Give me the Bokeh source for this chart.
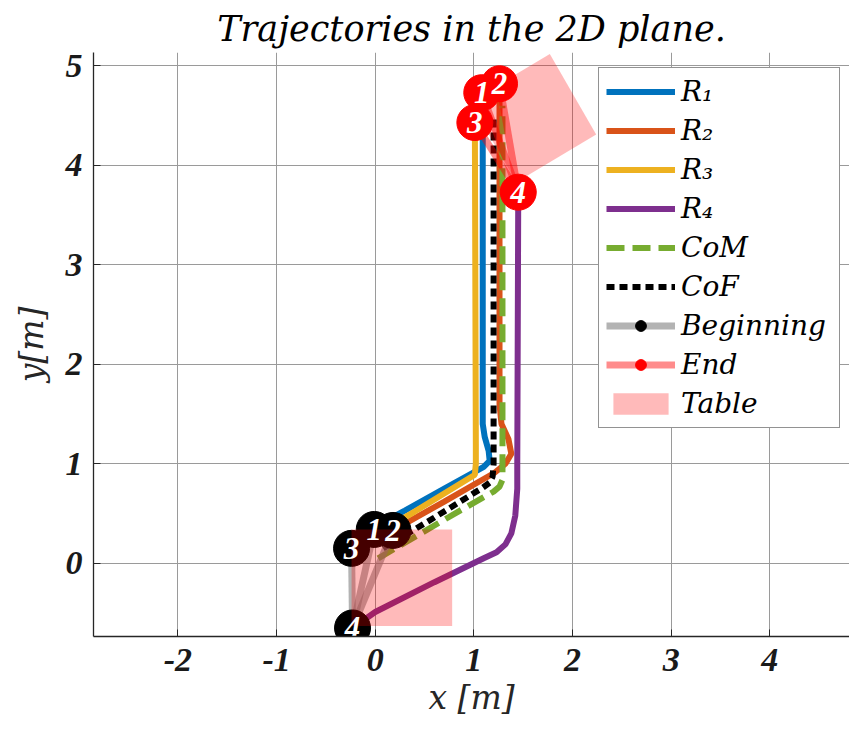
from bokeh.plotting import figure
from bokeh.models import Range1d, FixedTicker, Legend, LegendItem
from bokeh.embed import file_html
from bokeh.resources import INLINE
from bokeh.core.properties import value

# ---------------- data ----------------
x_ticks = [-2, -1, 0, 1, 2, 3, 4]
y_ticks = [0, 1, 2, 3, 4, 5]

r1_x = [-0.01, 0.30, 0.70, 1.10, 1.16, 1.15, 1.11, 1.09, 1.09, 1.08]
r1_y = [0.36, 0.53, 0.75, 0.97, 1.03, 1.13, 1.27, 1.40, 4.30, 4.73]

r2_x = [0.18, 0.70, 1.21, 1.32, 1.38, 1.35, 1.28, 1.26, 1.26]
r2_y = [0.33, 0.62, 0.91, 1.00, 1.10, 1.25, 1.40, 1.60, 4.82]

r3_x = [-0.24, 0.40, 1.01, 1.02, 1.02, 1.01]
r3_y = [0.15, 0.52, 0.89, 1.00, 1.20, 4.43]

r4_x = [-0.23, 0.00, 0.60, 1.10, 1.23, 1.32, 1.38, 1.42, 1.44, 1.44, 1.45]
r4_y = [-0.65, -0.49, -0.19, 0.05, 0.11, 0.19, 0.30, 0.48, 0.75, 1.00, 3.73]

com_x = [0.03, 0.86, 1.20, 1.26, 1.29, 1.29, 1.29]
com_y = [0.05, 0.53, 0.72, 0.77, 0.84, 1.00, 4.60]

cof_x = [0.08, 0.60, 1.09, 1.16, 1.19, 1.20, 1.20]
cof_y = [0.15, 0.46, 0.76, 0.81, 0.87, 1.00, 4.47]

robot_labels = ["1", "2", "3", "4"]
begin_x = [-0.01, 0.18, -0.24, -0.23]
begin_y = [0.34, 0.33, 0.15, -0.65]
end_x = [1.08, 1.26, 1.01, 1.45]
end_y = [4.73, 4.82, 4.43, 3.73]

table_begin_x = [-0.24, 0.78, 0.78, -0.24]
table_begin_y = [-0.63, -0.63, 0.34, 0.34]
table_end_x = [1.77, 2.24, 1.43, 0.96]
table_end_y = [5.12, 4.31, 3.83, 4.64]

# ---------------- figure ----------------
p = figure(width=849, height=735,
           x_range=Range1d(-2.856, 4.808), y_range=Range1d(-0.736, 5.134),
           output_backend="svg", toolbar_location=None,
           min_border_left=93, min_border_right=0, min_border_top=52, min_border_bottom=99,
           title="Trajectories in the 2D plane.")
p.outline_line_color = None
p.background_fill_color = "white"
p.border_fill_color = "white"

p.title.align = "center"
p.title.text_font = "DejaVu Serif"
p.title.text_font_style = "italic"
p.title.text_font_size = "35px"
p.title.text_color = "black"
p.title.standoff = 8

p.xaxis.ticker = FixedTicker(ticks=x_ticks)
p.yaxis.ticker = FixedTicker(ticks=y_ticks)
p.xaxis.major_label_overrides = {t: str(t) for t in x_ticks}
p.yaxis.major_label_overrides = {t: str(t) for t in y_ticks}
p.xgrid.ticker = FixedTicker(ticks=x_ticks)
p.ygrid.ticker = FixedTicker(ticks=y_ticks)
p.grid.grid_line_color = "#9a9a9a"
p.grid.grid_line_width = 1

p.xaxis.axis_label = "x [m]"
p.yaxis.axis_label = "y[m]"
for ax in (p.xaxis[0], p.yaxis[0]):
    ax.major_label_text_font = "Liberation Serif"
    ax.major_label_text_font_style = "bold italic"
    ax.major_label_text_font_size = "34px"
    ax.major_label_text_color = "#1a1a1a"
    ax.axis_label_text_font = "DejaVu Serif"
    ax.axis_label_text_font_style = "italic"
    ax.axis_label_text_font_size = "33px"
    ax.axis_label_text_color = "#262626"
    ax.axis_line_color = "#262626"
    ax.axis_line_width = 1.3
    ax.major_tick_line_color = "#262626"
    ax.major_tick_in = 7
    ax.major_tick_out = 0
    ax.minor_tick_line_color = None
p.xaxis.major_label_standoff = 12
p.xaxis.axis_label_standoff = 4
p.yaxis.major_label_standoff = 11
p.yaxis.axis_label_standoff = 12

LW = 6
r1 = p.line(r1_x, r1_y, line_color="#0072BD", line_width=LW)
r2 = p.line(r2_x, r2_y, line_color="#D95319", line_width=LW)
r3 = p.line(r3_x, r3_y, line_color="#EDB120", line_width=LW)
r4 = p.line(r4_x, r4_y, line_color="#7E2F8E", line_width=LW)
rcom = p.line(com_x, com_y, line_color="#77AC30", line_width=LW, line_dash="18 8")
rcof = p.line(cof_x, cof_y, line_color="black", line_width=LW, line_dash="8 5")

# connectors from robot 4 to robots 1..3
bxs = [[begin_x[3], begin_x[i]] for i in range(3)]
bys = [[begin_y[3], begin_y[i]] for i in range(3)]
exs = [[end_x[3], end_x[i]] for i in range(3)]
eys = [[end_y[3], end_y[i]] for i in range(3)]
bconn = p.multi_line(bxs, bys, line_color="gray", line_alpha=0.6, line_width=7)
econn = p.multi_line(exs, eys, line_color="red", line_alpha=0.45, line_width=7)

bdots = p.scatter(begin_x, begin_y, size=36, marker="circle",
                  fill_color="black", line_color="black")
edots = p.scatter(end_x, end_y, size=36, marker="circle",
                  fill_color="red", line_color="red")

tab1 = p.patch(table_begin_x, table_begin_y, fill_color="red", fill_alpha=0.27, line_color=None)
tab2 = p.patch(table_end_x, table_end_y, fill_color="red", fill_alpha=0.27, line_color=None)

p.text(x=begin_x, y=begin_y, text=robot_labels, text_font=value("Liberation Serif"),
       text_font_style="bold italic", text_font_size="31px", text_color="white",
       text_align="center", text_baseline="middle")
p.text(x=end_x, y=end_y, text=robot_labels, text_font=value("Liberation Serif"),
       text_font_style="bold italic", text_font_size="31px", text_color="white",
       text_align="center", text_baseline="middle")

legend = Legend(items=[
    LegendItem(label="R\u2081", renderers=[r1]),
    LegendItem(label="R\u2082", renderers=[r2]),
    LegendItem(label="R\u2083", renderers=[r3]),
    LegendItem(label="R\u2084", renderers=[r4]),
    LegendItem(label="CoM", renderers=[rcom]),
    LegendItem(label="CoF", renderers=[rcof]),
    LegendItem(label="Beginning", renderers=[bconn, bdots]),
    LegendItem(label="End", renderers=[econn, edots]),
    LegendItem(label="Table", renderers=[tab1]),
], location=(505, 208))
legend.label_text_font = "DejaVu Serif"
legend.label_text_font_style = "italic"
legend.label_text_font_size = "28px"
legend.label_text_color = "black"
legend.glyph_width = 69
legend.glyph_height = 27
legend.label_height = 27
legend.label_width = 151
legend.label_standoff = 6
legend.padding = 7
legend.spacing = 6
legend.border_line_color = "#262626"
legend.border_line_width = 1
legend.background_fill_color = "white"
legend.background_fill_alpha = 1
p.add_layout(legend)

open("out.html", "w").write(file_html(p, INLINE))
